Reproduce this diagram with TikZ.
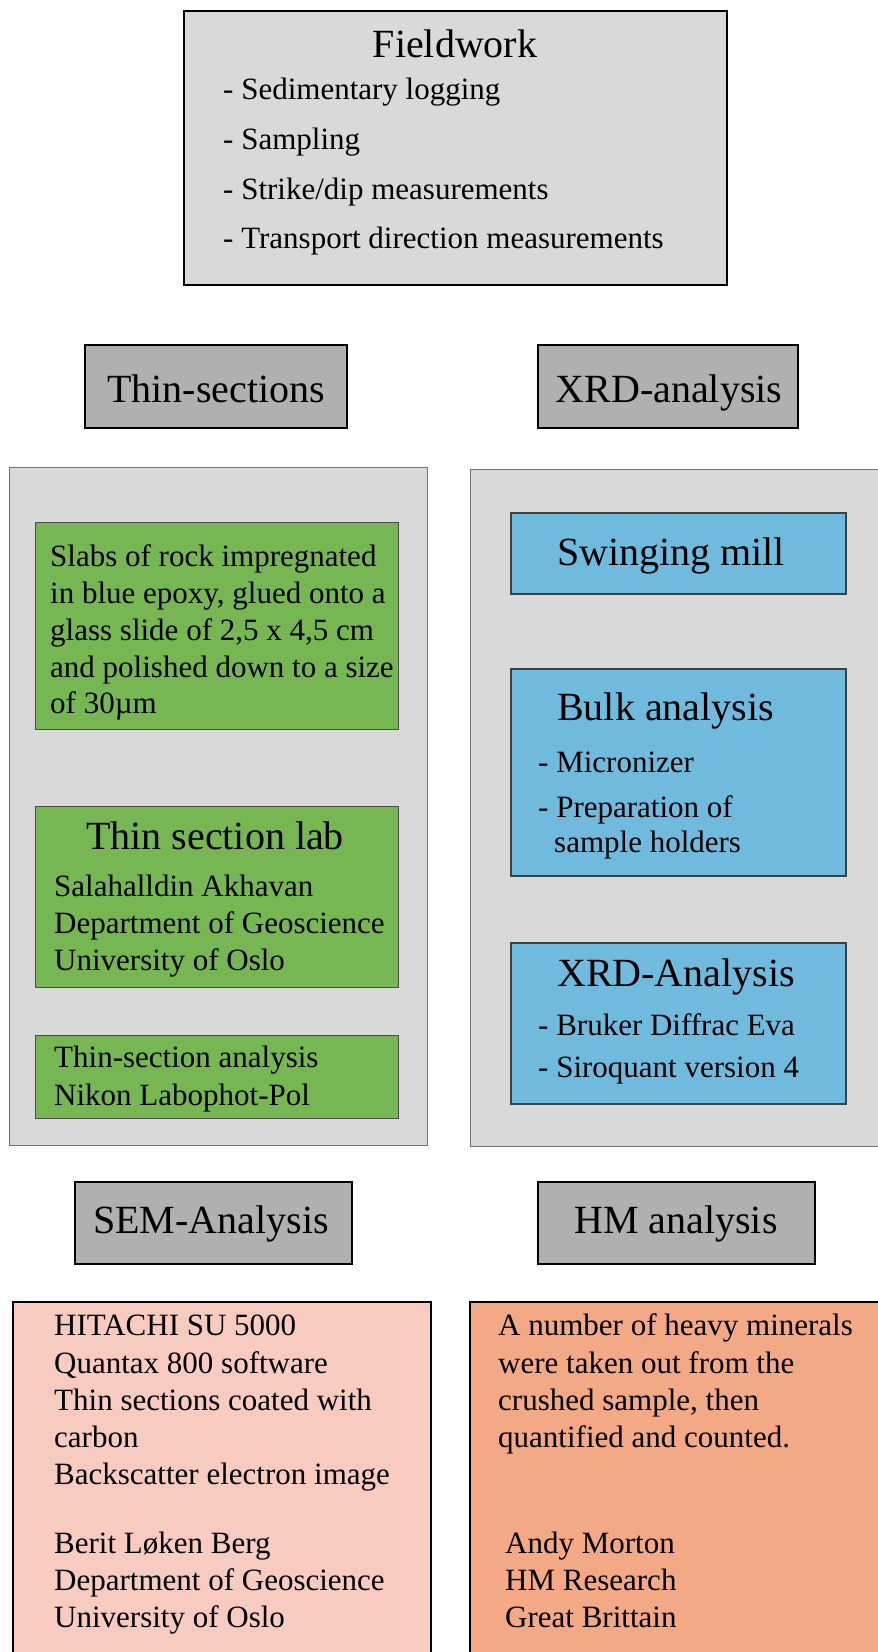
\documentclass[tikz,border=0pt]{standalone}
\usepackage{fontspec}
\setmainfont{Liberation Serif}
\usepackage{xcolor}

\definecolor{boxgray}{HTML}{D9D9D9}
\definecolor{headgray}{HTML}{B0B0B0}
\definecolor{labgreen}{HTML}{76B753}
\definecolor{xrdblue}{HTML}{70BADD}
\definecolor{sempink}{HTML}{F8CBC1}
\definecolor{hmorange}{HTML}{F3A886}

\tikzset{
  bodytext/.style={anchor=base west, inner sep=0pt, font=\fontsize{31}{37}\selectfont},
  boxtitle/.style={anchor=base, inner sep=0pt, font=\fontsize{40}{48}\selectfont},
  headbox/.style={draw=black, line width=2pt, fill=headgray},
  panelbox/.style={draw=black!55, line width=1pt, fill=boxgray},
}

\begin{document}
\begin{tikzpicture}[x=1pt,y=-1pt]
    \useasboundingbox (0,0) rectangle (878,1652);

    % fieldwork
    \draw[line width=1.5pt, fill=boxgray] (184,11) rectangle (727,285);
    \node[boxtitle] (fieldwork) at (455,57) {Fieldwork};
    \foreach \y/\txt [count=\i] in {99/{- Sedimentary logging}, 149/{- Sampling},
        199/{- Strike/dip measurements}, 248/{- Transport direction measurements}}
      \node[bodytext] (field\i) at (223,\y) {\txt};

    % headers of the two columns
    \draw[headbox] (85,345) rectangle (347,428);
    \node[boxtitle] (thinsec) at (216,402) {Thin-sections};
    \draw[headbox] (538,345) rectangle (798,428);
    \node[boxtitle] (xrd) at (669,402) {XRD-analysis};

    \draw[panelbox] (9,467) rectangle (427,1145);
    \draw[panelbox] (470,469) rectangle (885,1146);

    % thin-section steps
    \draw[draw=black!70, line width=1pt, fill=labgreen] (35,522) rectangle (398,729);
    \foreach \y/\txt [count=\i] in {566/{Slabs of rock impregnated}, 603/{in blue epoxy, glued onto a},
        640/{glass slide of 2,5 x 4,5 cm}, 677/{and polished down to a size}, 713/{of 30µm}}
      \node[bodytext] (slab\i) at (50,\y) {\txt};

    \draw[draw=black!70, line width=1pt, fill=labgreen] (35,806) rectangle (398,987);
    \node[boxtitle] (lab) at (215,849) {Thin section lab};
    \foreach \y/\txt [count=\i] in {896/{Salahalldin Akhavan}, 933/{Department of Geoscience},
        970/{University of Oslo}}
      \node[bodytext] (lab\i) at (54,\y) {\txt};

    \draw[draw=black!70, line width=1pt, fill=labgreen] (35,1035) rectangle (398,1118);
    \node[bodytext] (micro1) at (54,1067) {Thin-section analysis};
    \node[bodytext] (micro2) at (54,1105) {Nikon Labophot-Pol};

    % xrd steps
    \draw[draw=black!75, line width=1.2pt, fill=xrdblue] (511,513) rectangle (846,594);
    \node[boxtitle, anchor=base west] (mill) at (557,565) {Swinging mill};

    \draw[draw=black!75, line width=1.2pt, fill=xrdblue] (511,669) rectangle (846,876);
    \node[boxtitle, anchor=base west] (bulk) at (557,720) {Bulk analysis};
    \node[bodytext] (bulk1) at (538,772) {- Micronizer};
    \node[bodytext] (bulk2) at (538,817) {- Preparation of};
    \node[bodytext] (bulk3) at (554,852) {sample holders};

    \draw[draw=black!75, line width=1.2pt, fill=xrdblue] (511,943) rectangle (846,1104);
    \node[boxtitle, anchor=base west] (xrdrun) at (557,986) {XRD-Analysis};
    \node[bodytext] (xrdrun1) at (538,1035) {- Bruker Diffrac Eva};
    \node[bodytext] (xrdrun2) at (538,1077) {- Siroquant version 4};

    % lower headers
    \draw[headbox] (75,1182) rectangle (352,1264);
    \node[boxtitle] (sem) at (211,1233) {SEM-Analysis};
    \draw[headbox] (538,1182) rectangle (815,1264);
    \node[boxtitle] (hm) at (676,1233) {HM analysis};

    % sem and hm details, cut by the page edge
    \draw[line width=1.5pt, fill=sempink] (13,1302) rectangle (431,1660);
    \foreach \y/\txt [count=\i] in {1335/{HITACHI SU 5000}, 1373/{Quantax 800 software},
        1410/{Thin sections coated with}, 1447/{carbon}, 1484/{Backscatter electron image},
        1553/{Berit Løken Berg}, 1590/{Department of Geoscience}, 1627/{University of Oslo}}
      \node[bodytext] (sem\i) at (54,\y) {\txt};

    \draw[line width=1.5pt, fill=hmorange] (470,1302) rectangle (885,1660);
    \foreach \y/\txt [count=\i] in {1335/{A number of heavy minerals}, 1373/{were taken out from the},
        1410/{crushed sample, then}, 1447/{quantified and counted.}}
      \node[bodytext] (hm\i) at (498,\y) {\txt};
    \foreach \y/\txt [count=\i] in {1553/{Andy Morton}, 1590/{HM Research}, 1627/{Great Brittain}}
      \node[bodytext] (morton\i) at (505,\y) {\txt};
\end{tikzpicture}
\end{document}
